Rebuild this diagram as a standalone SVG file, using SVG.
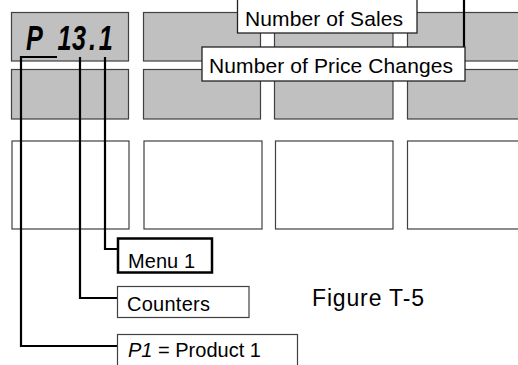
<svg xmlns="http://www.w3.org/2000/svg" width="518" height="365" viewBox="0 0 518 365">
<style>
.g{fill:#c0c0c0;stroke:#404040;stroke-width:1.2}
.w{fill:#fff;stroke:#404040;stroke-width:1.2}
.lbl{fill:#fff;stroke:#222;stroke-width:1.3}
.t{font-family:"Liberation Sans",Arial,sans-serif;font-size:20px;fill:#000}
.c{fill:none;stroke:#000;stroke-width:2.2}
.d{font-family:"Liberation Sans",Arial,sans-serif;font-size:36px;font-weight:bold;font-style:italic;fill:#000}
</style>
<rect width="518" height="365" fill="#fff"/>
<g id="panel">
<rect class="g" x="11.5" y="12.5" width="117" height="48.5"/>
<rect class="g" x="143.5" y="12.5" width="117" height="48.5"/>
<rect class="g" x="274.5" y="12.5" width="118.5" height="48.5"/>
<rect class="g" x="407.5" y="12.5" width="120" height="48.5"/>
<rect class="g" x="11.5" y="69.5" width="117" height="49.5"/>
<rect class="g" x="143.5" y="69.5" width="117" height="49.5"/>
<rect class="g" x="274.5" y="69.5" width="118.5" height="49.5"/>
<rect class="g" x="407.5" y="69.5" width="120" height="49.5"/>
<rect class="w" x="12" y="141" width="117" height="88"/>
<rect class="w" x="144" y="141" width="118" height="88"/>
<rect class="w" x="275.5" y="141" width="117.5" height="88"/>
<rect class="w" x="407.5" y="141" width="120" height="88"/>
</g>
<g id="display">
<text class="d" transform="scale(0.7,1)" x="37 82 103 127 141" y="50">P13.1</text>
</g>
<g id="connectors">
<polyline class="c" points="57,57 21,57 21,346 118,346"/>
<polyline class="c" points="80,57 80,298 118,298"/>
<polyline class="c" points="105,57 105,249 118,249"/>
<line class="c" x1="464" y1="0" x2="464" y2="47"/>
</g>
<g id="sales">
<rect class="lbl" x="237.5" y="-2" width="179.5" height="35"/>
<text class="t" x="245" y="26" style="font-size:21px" textLength="158">Number of Sales</text>
</g>
<g id="price">
<rect class="lbl" x="202" y="47" width="263" height="34"/>
<text class="t" x="209" y="73" style="font-size:21px" textLength="244">Number of Price Changes</text>
</g>
<g id="menu1">
<rect x="118" y="238.5" width="94" height="34" fill="#fff" stroke="#000" stroke-width="2.5"/>
<text class="t" x="128" y="268" textLength="67">Menu 1</text>
</g>
<g id="counters">
<rect class="w" x="117.5" y="286.5" width="131.5" height="31"/>
<text class="t" x="127" y="311" textLength="83">Counters</text>
</g>
<g id="product">
<rect class="w" x="117.5" y="334.5" width="180" height="35"/>
<text class="t" x="128" y="357"><tspan font-style="italic">P1</tspan> = Product 1</text>
</g>
<text class="t" x="312" y="306" style="font-size:23px" textLength="112">Figure T-5</text>
</svg>
